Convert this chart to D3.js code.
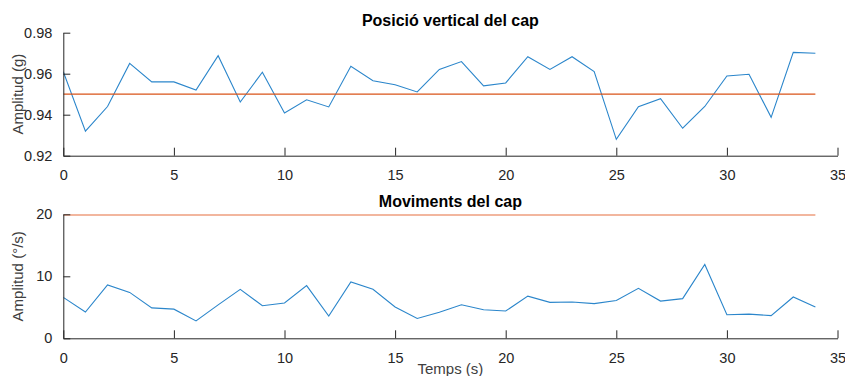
<!DOCTYPE html>
<html>
<head>
<meta charset="utf-8">
<script src="https://cdn.jsdelivr.net/npm/d3@7"></script>
<style>
html,body{margin:0;padding:0;background:#fff;}
svg text{font-family:"Liberation Sans",Arial,Helvetica,sans-serif;}
</style>
</head>
<body>
<svg id="chart" width="845" height="376"></svg>
<script>
const time = d3.range(0, 35);
const posValues = [0.961,0.932,0.944,0.965,0.956,0.956,0.952,0.9688,0.9462,0.9607,0.9408,
  0.9473,0.9438,0.9636,0.9566,0.9546,0.9511,0.9621,0.9659,0.9541,0.9555,0.9683,0.9621,0.9683,
  0.961,0.928,0.9439,0.9478,0.9334,0.944,0.9589,0.9597,0.9387,0.9704,0.970];
const posThreshold = 0.95;
const movValues = [6.6,4.24,8.6,7.4,4.9,4.7,2.8,5.4,7.9,5.26,5.7,
  8.5,3.6,9.1,7.9,5.05,3.2,4.2,5.4,4.6,4.4,6.8,5.8,5.85,
  5.6,6.1,8.06,6.0,6.4,11.9,3.8,3.9,3.65,6.66,5.05];
const movThreshold = 20;
const xTicks = [0,5,10,15,20,25,30,35];
const posTicks = [0.92,0.94,0.96,0.98];
const movTicks = [0,10,20];
const titles = ["Posició vertical del cap", "Moviments del cap"];
const yLabels = ["Amplitud (g)", "Amplitud (°/s)"];
const xLabel = "Temps (s)";

const svg = d3.select("#chart");
const left = 63.3, right = 837.5;
const x = d3.scaleLinear().domain([0,35]).range([left,right]);
const axisColor = "#262626";

function panel(idx, values, thr, yDomain, yTicks, top, bottom, fmt, thrColor, thrWidth) {
  const y = d3.scaleLinear().domain(yDomain).range([bottom, top]);
  const g = svg.append("g");
  const clipId = "clip" + idx;
  svg.append("clipPath").attr("id", clipId).append("rect")
    .attr("x", left).attr("y", top).attr("width", right-left).attr("height", bottom-top);

  const line = d3.line().x((d,i)=>x(time[i])).y(d=>y(d));
  g.append("path").datum(values).attr("d", line)
    .attr("fill","none").attr("stroke","#2B86CB").attr("stroke-width",1.1)
    .attr("clip-path",`url(#${clipId})`);
  g.append("line")
    .attr("x1", x(time[0])).attr("x2", x(time[time.length-1]))
    .attr("y1", y(thr)).attr("y2", y(thr))
    .attr("stroke", thrColor).attr("stroke-width", thrWidth)
    .attr("clip-path",`url(#${clipId})`);

  const xAxis = d3.axisBottom(x).tickValues(xTicks).tickSize(-8).tickPadding(14).tickSizeOuter(0);
  const gx = g.append("g").attr("transform",`translate(0,${bottom})`).call(xAxis);
  const yAxis = d3.axisLeft(y).tickValues(yTicks).tickSize(-7).tickPadding(11).tickSizeOuter(0).tickFormat(fmt);
  const gy = g.append("g").attr("transform",`translate(${left},0)`).call(yAxis);
  [gx, gy].forEach(a => {
    a.select(".domain").attr("stroke", axisColor).attr("stroke-width",1);
    a.selectAll(".tick line").attr("stroke", axisColor);
    a.selectAll(".tick text").attr("fill", axisColor).attr("font-size", 14.5);
  });
  gx.selectAll(".tick text").attr("dy","0.71em");

  g.append("text").attr("x", (left+right)/2).attr("y", top-7)
    .attr("text-anchor","middle").attr("font-weight","bold").attr("font-size",16)
    .attr("fill","#000").text(titles[idx]);
  g.append("text").attr("transform",`translate(18,${(top+bottom)/2}) rotate(-90)`)
    .attr("text-anchor","middle").attr("dy","0.35em").attr("font-size",15).attr("fill","#404040").text(yLabels[idx]);
}

panel(0, posValues, posThreshold, [0.92,0.98], posTicks, 32.7, 155.7, d3.format(".2f"), "#D95319", 1.2);
panel(1, movValues, movThreshold, [0,20], movTicks, 214.3, 338.3, d3.format("d"), "#EE9E7E", 3);

svg.append("text").attr("x",(left+right)/2).attr("y",374)
  .attr("text-anchor","middle").attr("font-size",15).attr("fill","#404040").text(xLabel);
</script>
</body>
</html>
